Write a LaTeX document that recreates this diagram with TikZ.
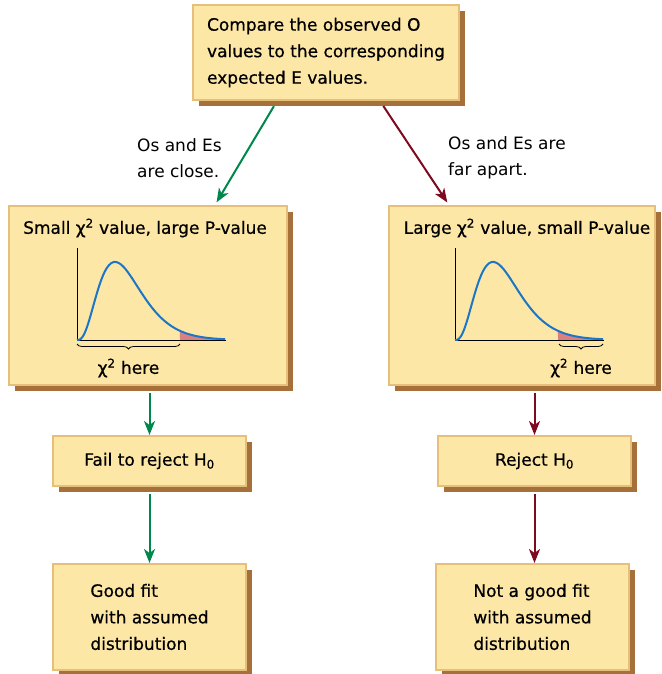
\documentclass[tikz,border=0pt]{standalone}
\usepackage{fontspec}
\setmainfont{DejaVu Sans}
\newfontfamily\cardfont{DejaVu Sans}[FakeBold=0.6]
\usetikzlibrary{arrows.meta,shadows,decorations.pathreplacing,positioning}

\definecolor{boxfill}{RGB}{253,231,166}
\definecolor{boxedge}{RGB}{230,192,122}
\definecolor{boxshadow}{RGB}{166,112,58}
\definecolor{okgreen}{RGB}{0,135,75}
\definecolor{badred}{RGB}{125,10,30}
\definecolor{curveblue}{RGB}{28,118,200}
\definecolor{tailpink}{RGB}{218,128,128}

\tikzset{
  card/.style={rectangle, fill=boxfill, draw=boxedge, line width=2pt,
    drop shadow={shadow xshift=6pt, shadow yshift=-6pt, fill=boxshadow, opacity=1},
    font=\cardfont\fontsize{17}{26.5}\selectfont, align=left},
  heading/.style={font=\cardfont\fontsize{17}{18}\selectfont, inner sep=0pt},
  note/.style={font=\fontsize{17}{26}\selectfont, align=left, anchor=west, inner sep=0pt},
  flow/.style={line width=2pt, -{Stealth[length=14pt,width=11pt,inset=4pt]}},
}

\begin{document}
\begin{tikzpicture}[x=1pt,y=-1pt]
\useasboundingbox (0,0) rectangle (661,674);

% boxes
\node[card, minimum width=266pt, minimum height=95pt] (cmp) at (326,52.5)
  {Compare the observed O\\values to the corresponding\\expected E values.};
\node[card, minimum width=278pt, minimum height=179pt] (lbox) at (148,295.5) {};
\node[card, minimum width=266pt, minimum height=179pt] (rbox) at (522,295.5) {};
\node[card, minimum width=193pt, minimum height=50pt] (fail) at (149.5,461)
  {Fail to reject H\textsubscript{0}};
\node[card, minimum width=193pt, minimum height=50pt] (reject) at (534.5,461)
  {Reject H\textsubscript{0}};
\node[card, minimum width=193pt, minimum height=106pt] (good) at (149.5,617)
  {Good fit\\with assumed\\distribution};
\node[card, minimum width=193pt, minimum height=106pt] (notgood) at (532.5,617)
  {Not a good fit\\with assumed\\distribution};

% titles in the middle boxes
\node[heading] (ltitle) at (145,228) {Small χ\textsuperscript{2} value, large P-value};
\node[heading] (rtitle) at (527,228) {Large χ\textsuperscript{2} value, small P-value};

% the two chi-square sketches
\foreach \gx/\ba/\bb in {0/0/103,378/104/148}{
  \begin{scope}[xshift=\gx pt]
    \fill[tailpink] (180,340) -- plot[domain=5.42:7.8,samples=30]
      ({77+19*\x},{340-196*(\x*exp(-0.5*\x))^3}) -- (225,340) -- cycle;
    \draw[line width=1pt] (77,248) -- (77,340) -- (226,340);
    \draw[curveblue, line width=2pt] plot[domain=0:7.8,samples=80,smooth]
      ({77+19*\x},{340-196*(\x*exp(-0.5*\x))^3});
    \draw[decorate, decoration={brace, mirror, amplitude=5pt}, line width=0.8pt]
      ({77+\ba},344) -- ({77+\bb},344);
    \node[heading] (here\gx) at ({77+(\ba+\bb)/2},368) {χ\textsuperscript{2} here};
  \end{scope}
}

% arrow labels
\node[note] (closelbl) at (137,158) {Os and Es\\are close.};
\node[note] (farlbl) at (448,158) {Os and Es are\\far apart.};

% connectors
\draw[flow, okgreen, shorten <=6pt, shorten >=3pt] ([xshift=-49pt]cmp.south) -- ([xshift=67pt]lbox.north);
\draw[flow, badred, shorten <=6pt, shorten >=3pt] ([xshift=54pt]cmp.south) -- ([xshift=-73pt]rbox.north);
\draw[flow, okgreen, shorten <=7pt] (lbox.south -| fail.north) -- (fail.north);
\draw[flow, okgreen, shorten <=7pt] (fail.south) -- (good.north);
\draw[flow, badred, shorten <=7pt] (rbox.south -| reject.north) -- (reject.north);
\draw[flow, badred, shorten <=7pt] (reject.south) -- (reject.south |- notgood.north);
\end{tikzpicture}
\end{document}
